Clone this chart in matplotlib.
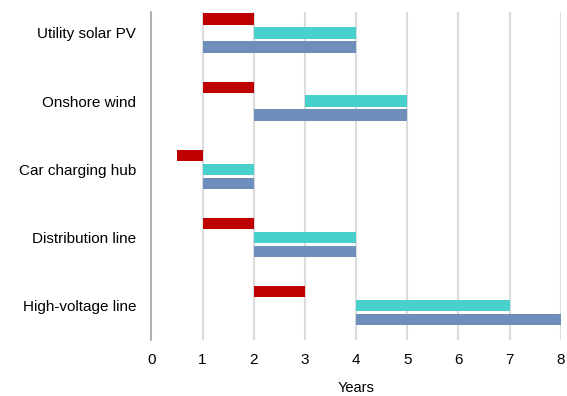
import numpy as np
import matplotlib.pyplot as plt

plt.rcParams['font.family'] = ['Liberation Sans', 'DejaVu Sans']

projects = ['Utility solar PV', 'Onshore wind', 'Car charging hub',
            'Distribution line', 'High-voltage line']

# (start, end) in years for each of the three phases
red_start = [1, 1, 0.5, 1, 2]
red_end = [2, 2, 1, 2, 3]
teal_start = [2, 3, 1, 2, 4]
teal_end = [4, 5, 2, 4, 7]
blue_start = [1, 2, 1, 2, 4]
blue_end = [4, 5, 2, 4, 8]

fig = plt.figure(figsize=(5.67, 3.96), dpi=100)
ax = fig.add_axes([0.267, 0.141, 0.722, 0.829])

y = np.arange(len(projects))
h = 0.165
off = 0.205

series = [
    (red_start, red_end, -off, '#C00000'),
    (teal_start, teal_end, 0.0, '#48D1CC'),
    (blue_start, blue_end, off, '#6E8EBB'),
]
for start, end, dy, col in series:
    s = np.array(start)
    e = np.array(end)
    ax.barh(y + dy, e - s, left=s, height=h, color=col, zorder=3)

ax.set_xlim(0, 8)
ax.set_ylim(4.51, -0.31)
ax.set_xticks(range(9))
ax.set_yticks(y)
ax.set_yticklabels(projects)
ax.tick_params(axis='both', length=0, labelsize=11, colors='#000000')
ax.tick_params(axis='x', pad=9)
ax.tick_params(axis='y', pad=11)
ax.set_xlabel('Years', fontsize=10.5, labelpad=10)

ax.grid(axis='x', color='#DCDCDC', linewidth=1.5, zorder=0)
for side in ['top', 'right', 'bottom']:
    ax.spines[side].set_visible(False)
ax.spines['left'].set_color('#A6A6A6')
ax.spines['left'].set_linewidth(1.2)

fig.savefig('out.png', dpi=100)
